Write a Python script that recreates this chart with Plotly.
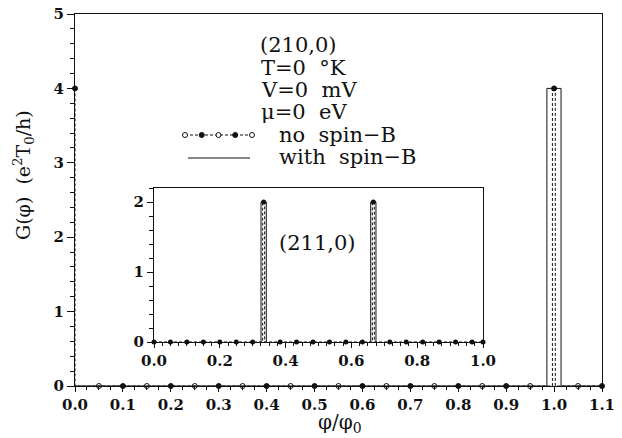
import plotly.graph_objects as go

# ---------------- data ----------------
# main panel (210,0): sampled points (no spin-B markers)
main_phi = [0.0, 0.05, 0.1, 0.15, 0.2, 0.25, 0.3, 0.35, 0.4, 0.45, 0.5, 0.55,
            0.6, 0.65, 0.7, 0.75, 0.8, 0.85, 0.9, 0.95, 1.0, 1.05, 1.1]
main_g = [4, 0, 0, 0, 0, 0, 0, 0, 0, 0, 0, 0,
          0, 0, 0, 0, 0, 0, 0, 0, 4, 0, 0]
# main panel curves
main_nospin_phi = [0.0, 0.0, 0.9965, 0.9965, 1.0025, 1.0025, 1.1]
main_nospin_g = [4, 0, 0, 4, 4, 0, 0]
main_spin_phi = [0.0, 0.985, 0.985, 1.0145, 1.0145, 1.1]
main_spin_g = [0, 0, 4, 4, 0, 0]

# inset (211,0)
inset_phi = [0.0, 0.05, 0.1, 0.15, 0.2, 0.25, 0.3, 0.3333, 0.3833, 0.4333, 0.4833,
             0.5333, 0.5833, 0.6333, 0.6667, 0.7167, 0.7667, 0.8167, 0.8667,
             0.9167, 0.9667, 1.0]
inset_g = [0, 0, 0, 0, 0, 0, 0, 2, 0, 0, 0, 0, 0, 0, 2, 0, 0, 0, 0, 0, 0, 0]
inset_nospin_phi = [0.0, 0.3303, 0.3303, 0.3363, 0.3363, 0.6637, 0.6637, 0.6697, 0.6697, 1.0]
inset_nospin_g = [0, 0, 2, 2, 0, 0, 2, 2, 0, 0]
inset_spin_phi = [0.3253, 0.3253, 0.3413, 0.3413, None, 0.6587, 0.6587, 0.6747, 0.6747]
inset_spin_g = [0, 2, 2, 0, None, 0, 2, 2, 0]

main_xticks = [0.0, 0.1, 0.2, 0.3, 0.4, 0.5, 0.6, 0.7, 0.8, 0.9, 1.0, 1.1]
main_yticks = [0, 1, 2, 3, 4, 5]
inset_xticks = [0.0, 0.2, 0.4, 0.6, 0.8, 1.0]
inset_yticks = [0, 1, 2]

label_panel = "(210,0)"
label_inset = "(211,0)"
param_lines = ["T=0  °K", "V=0  mV", "μ=0  eV"]
legend_names = ["no  spin−B", "with  spin−B"]

# ---------------- figure ----------------
SERIF = "DejaVu Serif"
BLACK = "#111111"
OFF = 8                      # page body margin
W, H = 622 - OFF, 438 - OFF
# target plot area in window pixels: x 75..602, y 14..386
ML, MT = 75 - OFF, 14 - OFF
MR, MB = (OFF + W) - 602, (OFF + H) - 386
PW, PH = W - ML - MR, H - MT - MB


def px_x(sx):
    return (sx - 75) / PW


def px_y(sy):
    return (386 - sy) / PH


fig = go.Figure()

main_symbols = ["circle" if i % 2 == 0 else "circle-open" for i in range(len(main_phi))]

fig.add_trace(go.Scatter(x=main_spin_phi, y=main_spin_g, mode="lines",
                         line=dict(color=BLACK, width=1), xaxis="x", yaxis="y",
                         showlegend=False, cliponaxis=False))
fig.add_trace(go.Scatter(x=main_nospin_phi, y=main_nospin_g, mode="lines",
                         line=dict(color=BLACK, width=1, dash="3px,2px"), xaxis="x", yaxis="y",
                         showlegend=False, cliponaxis=False))
fig.add_trace(go.Scatter(x=main_phi, y=main_g, mode="markers",
                         marker=dict(symbol=main_symbols, size=5, color=BLACK,
                                     line=dict(color=BLACK, width=1)),
                         xaxis="x", yaxis="y", showlegend=False, cliponaxis=False))

fig.add_trace(go.Scatter(x=inset_spin_phi, y=inset_spin_g, mode="lines",
                         line=dict(color=BLACK, width=1), xaxis="x2", yaxis="y2",
                         showlegend=False, cliponaxis=False))
fig.add_trace(go.Scatter(x=inset_nospin_phi, y=inset_nospin_g, mode="lines",
                         line=dict(color=BLACK, width=1, dash="3px,2px"), xaxis="x2", yaxis="y2",
                         showlegend=False, cliponaxis=False))
fig.add_trace(go.Scatter(x=inset_phi, y=inset_g, mode="markers",
                         marker=dict(symbol="circle", size=5, color=BLACK),
                         xaxis="x2", yaxis="y2", showlegend=False, cliponaxis=False))

axis_common = dict(showline=True, linecolor=BLACK, linewidth=1.3, mirror=True,
                   showgrid=False, zeroline=False, ticks="outside", tickcolor=BLACK,
                   tickwidth=1, automargin=False, ticklabeloverflow="allow",
                   tickfont=dict(family=SERIF, size=15, color=BLACK, weight="bold"))

fig.update_layout(
    width=W, height=H,
    margin=dict(l=ML, r=MR, t=MT, b=MB, autoexpand=False),
    paper_bgcolor="white", plot_bgcolor="white",
    xaxis=dict(domain=[0, 1], range=[0, 1.1], tickvals=main_xticks,
               ticktext=[f"{v:.1f}" for v in main_xticks], ticklen=5,
               minor=dict(dtick=0.025, ticklen=3, ticks="outside", tickcolor=BLACK, showgrid=False),
               anchor="y", **axis_common),
    yaxis=dict(domain=[0, 1], range=[0, 5], tickvals=main_yticks, ticklen=7,
               minor=dict(dtick=0.2, ticklen=4, ticks="outside", tickcolor=BLACK, showgrid=False),
               anchor="x", **axis_common),
    xaxis2=dict(domain=[px_x(154), px_x(483)], range=[0, 1], tickvals=inset_xticks,
                ticktext=[f"{v:.1f}" for v in inset_xticks], ticklen=5,
                minor=dict(dtick=0.025, ticklen=3, ticks="outside", tickcolor=BLACK, showgrid=False),
                anchor="y2", **axis_common),
    yaxis2=dict(domain=[px_y(342), px_y(188)], range=[0, 2.2],
                tickvals=inset_yticks, ticklen=6,
                minor=dict(dtick=0.2, ticklen=4, ticks="outside", tickcolor=BLACK, showgrid=False),
                anchor="x2", **axis_common),
    showlegend=False,
)

# inset white background
fig.add_shape(type="rect", xref="x2 domain", yref="y2 domain", x0=0, x1=1, y0=0, y1=1,
              fillcolor="white", line=dict(width=0), layer="below")

TXT = dict(family=SERIF, size=21, color=BLACK)
ann = []
ann.append(dict(x=px_x(298), y=px_y(45), xref="paper", yref="paper", text=label_panel,
                showarrow=False, font=TXT, xanchor="center", yanchor="middle"))
for txt, sy in zip(param_lines, [68, 90, 112]):
    ann.append(dict(x=px_x(259), y=px_y(sy), xref="paper", yref="paper", text=txt,
                    showarrow=False, font=TXT, xanchor="left", yanchor="middle"))
for txt, sy in zip(legend_names, [135, 157]):
    ann.append(dict(x=px_x(277), y=px_y(sy), xref="paper", yref="paper", text=txt,
                    showarrow=False, font=TXT, xanchor="left", yanchor="middle"))
ann.append(dict(x=0.496, y=1.41, xref="x2", yref="y2", text=label_inset, showarrow=False,
                font=dict(family=SERIF, size=21, color=BLACK), xanchor="center", yanchor="middle"))
# axis titles
ann.append(dict(x=px_x(24), y=px_y(175), xref="paper", yref="paper",
                text="G(φ)  (e<sup>2</sup>T<sub>0</sub>/h)",
                showarrow=False, textangle=-90, font=dict(family=SERIF, size=19, color=BLACK),
                xanchor="center", yanchor="middle"))
ann.append(dict(x=px_x(340), y=px_y(423), xref="paper", yref="paper",
                text="φ/φ<sub>0</sub>", showarrow=False,
                font=dict(family=SERIF, size=20, color=BLACK), xanchor="center", yanchor="middle"))
fig.update_layout(annotations=ann)

# legend samples (decoration)
LX0, LX1 = px_x(185), px_x(252)
fig.add_shape(type="line", xref="paper", yref="paper", x0=LX0, x1=LX1,
              y0=px_y(135), y1=px_y(135), line=dict(color=BLACK, width=1, dash="3px,2px"))
fig.add_shape(type="line", xref="paper", yref="paper", x0=px_x(188), x1=px_x(250),
              y0=px_y(158), y1=px_y(158), line=dict(color=BLACK, width=1))
for k in range(5):
    xa = LX0 + k * (LX1 - LX0) / 4
    fig.add_shape(type="circle", xref="paper", yref="paper", xsizemode="pixel", ysizemode="pixel",
                  xanchor=xa, yanchor=px_y(135), x0=-2.5, x1=2.5, y0=-2.5, y1=2.5,
                  fillcolor=BLACK if k % 2 else "white", line=dict(color=BLACK, width=1))

fig.write_html("out.html")
